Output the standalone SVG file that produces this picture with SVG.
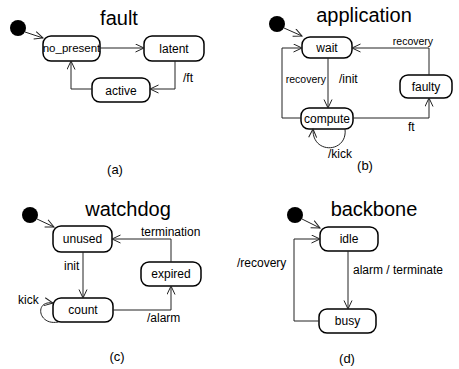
<svg xmlns="http://www.w3.org/2000/svg" width="459" height="369" viewBox="0 0 459 369">
<style>
.node rect{fill:#fff;stroke:#000;stroke-width:1.5}
.node text{font-family:"Liberation Sans",Arial,sans-serif;font-size:12px;text-anchor:middle;fill:#000}
.init circle{fill:#000}
.edges path{fill:none;stroke:#222;stroke-width:1;marker-end:url(#arr)}
.lbl{font-family:"Liberation Sans",Arial,sans-serif;font-size:12px;fill:#000}
.title{font-family:"Liberation Sans",Arial,sans-serif;font-size:20px;text-anchor:middle;fill:#000}
.cap{font-family:"Liberation Sans",Arial,sans-serif;font-size:13px;text-anchor:middle;fill:#000}
</style>
<defs>
<marker id="arr" markerUnits="userSpaceOnUse" markerWidth="11" markerHeight="10" refX="9" refY="4.5" orient="auto" viewBox="0 0 11 10">
<path d="M0.5,0.5 L9,4.5 L0.5,8.5" fill="none" stroke="#222" stroke-width="1"/>
</marker>
</defs>

<!-- (a) fault -->
<text class="title" x="119" y="25">fault</text>
<g id="a_init" class="init"><circle cx="18" cy="28" r="8"/></g>
<g id="a_no_present" class="node"><rect x="43" y="36" width="57" height="25" rx="8"/><text x="71.5" y="52" style="font-size:11.5px">no_present</text></g>
<g id="a_latent" class="node"><rect x="144" y="36" width="60" height="25" rx="8"/><text x="174" y="52.5">latent</text></g>
<g id="a_active" class="node"><rect x="92" y="78" width="58" height="24" rx="8"/><text x="121" y="94.5">active</text></g>
<text class="cap" x="115" y="174">(a)</text>

<!-- (b) application -->
<text class="title" x="364" y="22">application</text>
<g id="b_init" class="init"><circle cx="277" cy="24" r="8"/></g>
<g id="b_wait" class="node"><rect x="302" y="37" width="50" height="21" rx="8"/><text x="327" y="52">wait</text></g>
<g id="b_compute" class="node"><rect x="301" y="108" width="52" height="21" rx="8"/><text x="327" y="123">compute</text></g>
<g id="b_faulty" class="node"><rect x="400" y="75" width="52" height="23" rx="8"/><text x="426" y="91">faulty</text></g>
<text class="cap" x="365" y="170">(b)</text>

<!-- (c) watchdog -->
<text class="title" x="128" y="216">watchdog</text>
<g id="c_init" class="init"><circle cx="30" cy="215" r="8"/></g>
<g id="c_unused" class="node"><rect x="53" y="226" width="59" height="26" rx="8"/><text x="82.5" y="243">unused</text></g>
<g id="c_count" class="node"><rect x="53" y="298" width="60" height="24" rx="8"/><text x="83" y="314">count</text></g>
<g id="c_expired" class="node"><rect x="141" y="262" width="60" height="24" rx="8"/><text x="171" y="278">expired</text></g>
<text class="cap" x="117" y="361">(c)</text>

<!-- (d) backbone -->
<text class="title" x="374" y="216">backbone</text>
<g id="d_init" class="init"><circle cx="295" cy="215" r="8"/></g>
<g id="d_idle" class="node"><rect x="320" y="227" width="58" height="24" rx="8"/><text x="349" y="243">idle</text></g>
<g id="d_busy" class="node"><rect x="319" y="309" width="57" height="24" rx="8"/><text x="347.5" y="325">busy</text></g>
<text class="cap" x="347" y="363">(d)</text>

<g id="connectors" class="edges">
<!-- a -->
<path d="M25,32 L43,38"/>
<path d="M100,48 H144"/>
<path d="M175,61 V89 H150"/>
<path d="M92,89 H71 V61"/>
<!-- b -->
<path d="M284,28 L302,36"/>
<path d="M328,58 V108"/>
<path d="M301,118 H282 V48 H302"/>
<path d="M353,118 H429 V98"/>
<path d="M429,75 V48 H352"/>
<path d="M345,129 C348,153 312,155 313,129"/>
<!-- c -->
<path d="M37,219 L54,227"/>
<path d="M83,252 V298"/>
<path d="M113,310 H171 V286"/>
<path d="M171,262 V239 H112"/>
<path d="M58,322 C38,326 34,300 53,303"/>
<!-- d -->
<path d="M302,219 L320,228"/>
<path d="M348,251 V309"/>
<path d="M319,321 H294 V239 H320"/>
</g>

<g id="labels">
<text class="lbl" x="183" y="82">/ft</text>
<text class="lbl" x="326" y="83" text-anchor="end" style="font-size:10.5px">recovery</text>
<text class="lbl" x="339" y="83">/init</text>
<text class="lbl" x="413" y="45" text-anchor="middle" style="font-size:10.5px">recovery</text>
<text class="lbl" x="408" y="131">ft</text>
<text class="lbl" x="340" y="158" text-anchor="middle">/kick</text>
<text class="lbl" x="64" y="270">init</text>
<text class="lbl" x="147" y="322">/alarm</text>
<text class="lbl" x="141" y="236">termination</text>
<text class="lbl" x="18" y="304">kick</text>
<text class="lbl" x="353" y="274">alarm / terminate</text>
<text class="lbl" x="237" y="267">/recovery</text>
</g>
</svg>
